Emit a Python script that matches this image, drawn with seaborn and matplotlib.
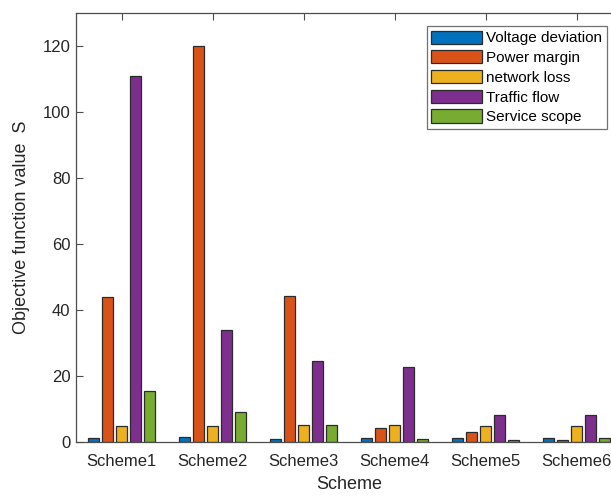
import matplotlib
matplotlib.use("Agg")
import matplotlib.pyplot as plt
import seaborn as sns
import pandas as pd

schemes = ["Scheme1", "Scheme2", "Scheme3", "Scheme4", "Scheme5", "Scheme6"]
metrics = ["Voltage deviation", "Power margin", "network loss", "Traffic flow", "Service scope"]

voltage_deviation = [1.3, 1.4, 0.9, 1.1, 1.3, 1.1]
power_margin = [43.9, 120.0, 44.3, 4.1, 2.9, 0.5]
network_loss = [4.9, 4.9, 5.1, 5.1, 5.0, 5.0]
traffic_flow = [110.9, 34.0, 24.4, 22.6, 8.3, 8.3]
service_scope = [15.4, 9.1, 5.1, 1.0, 0.6, 1.1]

colors = ["#0072BD", "#D95319", "#EDB120", "#7E2F8E", "#77AC30"]

series = [voltage_deviation, power_margin, network_loss, traffic_flow, service_scope]
rows = []
for name, vals in zip(metrics, series):
    for s, v in zip(schemes, vals):
        rows.append({"Scheme": s, "Metric": name, "Value": v})
df = pd.DataFrame(rows)

sns.set_style("white")
plt.rcParams["font.family"] = ["Liberation Sans", "DejaVu Sans"]

ink = "#262626"
fig = plt.figure(figsize=(6.11, 4.96), dpi=100)
ax = fig.add_axes([76 / 611, 1 - 442 / 496, 546 / 611, 429 / 496])

sns.barplot(data=df, x="Scheme", y="Value", hue="Metric", order=schemes,
            hue_order=metrics, palette=colors, width=0.77, gap=0.15,
            edgecolor="#2b2b2b", linewidth=0.9, saturation=1, ax=ax)

ax.set_xlim(-0.5, 5.5)
ax.set_ylim(0, 130)
ax.set_yticks(range(0, 121, 20))
ax.set_xlabel("Scheme", fontsize=13, color=ink, labelpad=5)
ax.set_ylabel("Objective function value  S", fontsize=13, color=ink, labelpad=9)

for sp in ax.spines.values():
    sp.set_visible(True)
    sp.set_color("#4d4d4d")
    sp.set_linewidth(0.9)
ax.tick_params(direction="in", length=5, width=0.8, color="#4d4d4d",
               labelsize=12, labelcolor=ink, top=True, right=True,
               bottom=True, left=True, pad=4)
ax.tick_params(axis="x", pad=9)

leg = ax.legend(loc="upper right", bbox_to_anchor=(607 / 611, 1 - 26 / 496),
                bbox_transform=fig.transFigure, borderaxespad=0,
                fontsize=11, fancybox=False, frameon=True,
                handlelength=3.3, handleheight=0.95, handletextpad=0.3,
                labelspacing=0.32, borderpad=0.3, title=None)
leg.get_frame().set_edgecolor("#4d4d4d")
leg.get_frame().set_linewidth(0.9)
for t in leg.get_texts():
    t.set_color("#000000")

fig.savefig("out.png", dpi=100)
